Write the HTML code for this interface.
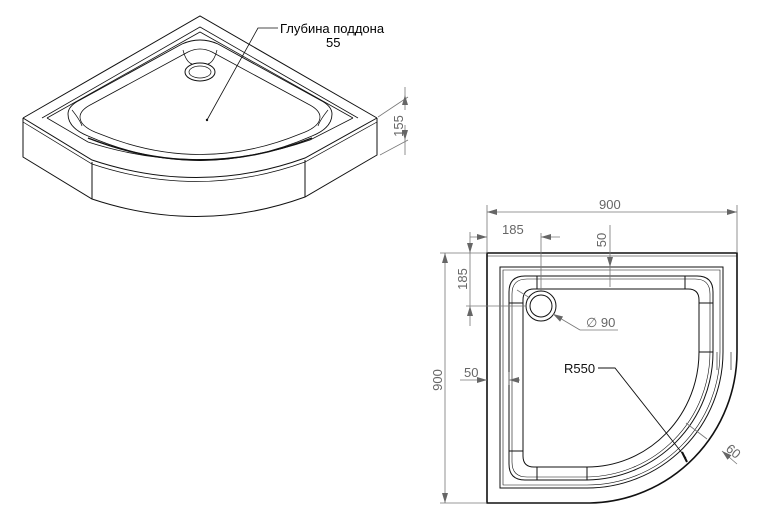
<!DOCTYPE html>
<html><head><meta charset="utf-8"><style>
html,body{margin:0;padding:0;background:#fff}
svg{display:block}
text{font-family:"Liberation Sans",sans-serif;font-size:13px}
</style></head><body>
<svg width="760" height="510" viewBox="0 0 760 510" xmlns="http://www.w3.org/2000/svg">
<defs>
<marker id="a" viewBox="0 0 10 6" refX="10" refY="3" markerWidth="10" markerHeight="6" orient="auto-start-reverse" markerUnits="userSpaceOnUse"><path d="M0,0L10,3L0,6z" fill="#666"/></marker>
</defs>
<g fill="none" stroke="#111" stroke-width="1">
<path d="M23,118 L200,16 L377,118"/>
<path d="M23,118 L23,157 L92,199 Q200,235 305,197 L377,155 L377,118"/>
<path d="M92,162 L92,199 M305,160 L305,197"/>
<path d="M23,118 L92,160 Q200,196 305,158 L377,118"/>
<path d="M23,122 L92,164 Q200,200 305,162 L377,122" stroke-width="0.7"/>
<path d="M42,118 L200,27 L358,118" stroke-width="0.8"/>
<path d="M47,118 L200,32 L353,118" stroke-width="0.8"/>
<path d="M47,118 L88,142 Q200,178 310,140 L353,118" stroke-width="0.8"/>
<path d="M68,114 Q68,106 80,100 L182,44 Q200,36 218,44 L320,100 Q332,106 332,114 Q332,128 312,136 Q200,185 88,136 Q68,128 68,114Z" stroke-width="0.9"/>
<path d="M80,117 Q80,110 92,104 L188,52 Q200,46 212,52 L308,104 Q320,110 320,117 Q320,127 300,134 Q200,175 100,134 Q80,127 80,117Z" stroke-width="0.8"/>
<path d="M88,138 Q200,182 312,138" stroke-width="1.4"/>
<path d="M183,50 Q186,62 192,64 M217,50 Q214,62 208,64 M72,110 Q80,120 82,126 M328,110 Q320,120 318,126" stroke-width="0.7"/>
<ellipse cx="200" cy="72" rx="15" ry="9"/>
<ellipse cx="200" cy="72" rx="11" ry="6" stroke-width="0.7"/>
<path d="M207,120 L258,28 L278,28" stroke-width="0.8"/>
</g>
<circle cx="207" cy="120" r="1.2" fill="#111"/>
<text x="280" y="33">Глубина поддона</text>
<text x="326" y="47">55</text>
<g stroke="#777" stroke-width="0.8" fill="none">
<path d="M378,117 L408,97 M380,155 L408,140"/>
<path d="M405,87 L405,95" />
<path d="M405,110 L405,95" marker-end="url(#a)"/>
<path d="M405,125 L405,140" marker-end="url(#a)"/>
<path d="M405,140 L405,155"/>
</g>
<text transform="translate(403,126) rotate(-90)" text-anchor="middle" fill="#666">155</text>

<g fill="none" stroke="#111" stroke-width="1">
<path d="M487,253 L737,253 L737,352 A150,151 0 0 1 590,503 L487,503 Z" stroke-width="1.6"/>
<path d="M487,256 L737,256" stroke-width="0.6"/>
<path d="M500,267 L723,267 L723,352 A136,136 0 0 1 587,488 L500,488 Z"/>
<path d="M503,270 L720,270 L720,352 A133,133 0 0 1 587,485 L503,485 Z" stroke-width="0.6"/>
<path d="M509,292 Q509,276 525,276 L697,276 Q713,276 713,292 L713,352 A128,128 0 0 1 587,480 L525,480 Q509,480 509,464 Z"/>
<path d="M512,294 Q512,279 527,279 L695,279 Q710,279 710,294 L710,352 A125,125 0 0 1 587,477 L527,477 Q512,477 512,462 Z" stroke-width="0.6"/>
<path d="M523,300 Q523,289 534,289 L688,289 Q699,289 699,300 L699,352 A112,115 0 0 1 587,467 L534,467 Q523,467 523,456 Z"/>
<path d="M537,276 L537,289 M685,276 L685,289 M699,303 L713,303 M699,352 L713,352 M509,303 L523,303 M509,451 L523,451 M537,467 L537,480 M587,467 L587,480"/>
<path d="M717,352 L717,370 M731,352 L731,370" stroke-width="0.6"/>
<circle cx="541" cy="306" r="15"/>
<circle cx="541" cy="306" r="11"/>
</g>
<g stroke="#111" stroke-width="0.9" fill="none">
<path d="M598,368 L615,368 L686,458"/>
</g>
<path d="M682,452 L687,462" stroke="#111" stroke-width="2"/>
<text x="564" y="373" fill="#111">R550</text>
<g stroke="#777" stroke-width="0.8" fill="none">
<path d="M487,205 L487,253 M737,205 L737,253"/>
<path d="M612,212 L487,212" marker-end="url(#a)"/>
<path d="M612,212 L737,212" marker-end="url(#a)"/>
<path d="M470,237 L487,237" marker-end="url(#a)"/>
<path d="M560,237 L541,237" marker-end="url(#a)"/>
<path d="M541,233 L541,292"/>
<path d="M610,225 L610,267" marker-end="url(#a)"/>
<path d="M610,267 L610,287"/>
<path d="M440,253 L487,253 M440,503 L487,503"/>
<path d="M445,380 L445,253" marker-end="url(#a)"/>
<path d="M445,380 L445,503" marker-end="url(#a)"/>
<path d="M466,306 L526,306"/>
<path d="M470,232 L470,253" marker-end="url(#a)"/>
<path d="M470,326 L470,306" marker-end="url(#a)"/>
<path d="M470,253 L470,306"/>
<path d="M460,380 L487,380" marker-end="url(#a)"/>
<path d="M520,380 L509,380" marker-end="url(#a)"/>
<path d="M509,372 L509,385"/>
<path d="M517,290 L530,298"/>
<path d="M580,330 L553,314" marker-end="url(#a)"/>
<path d="M580,330 L618,330"/>
<path d="M737,464 L722,451" marker-end="url(#a)"/>
<path d="M686,423 L707,439"/>
</g>
<g fill="#666">
<text x="599" y="209">900</text>
<text x="502" y="234">185</text>
<text transform="translate(606,240) rotate(-90)" text-anchor="middle">50</text>
<text transform="translate(467,279) rotate(-90)" text-anchor="middle">185</text>
<text transform="translate(442,380) rotate(-90)" text-anchor="middle">900</text>
<text x="464" y="377">50</text>
<text x="586" y="327" font-size="14">∅ 90</text>
<text transform="translate(725,450) rotate(40)">60</text>
</g>
</svg>
</body></html>
